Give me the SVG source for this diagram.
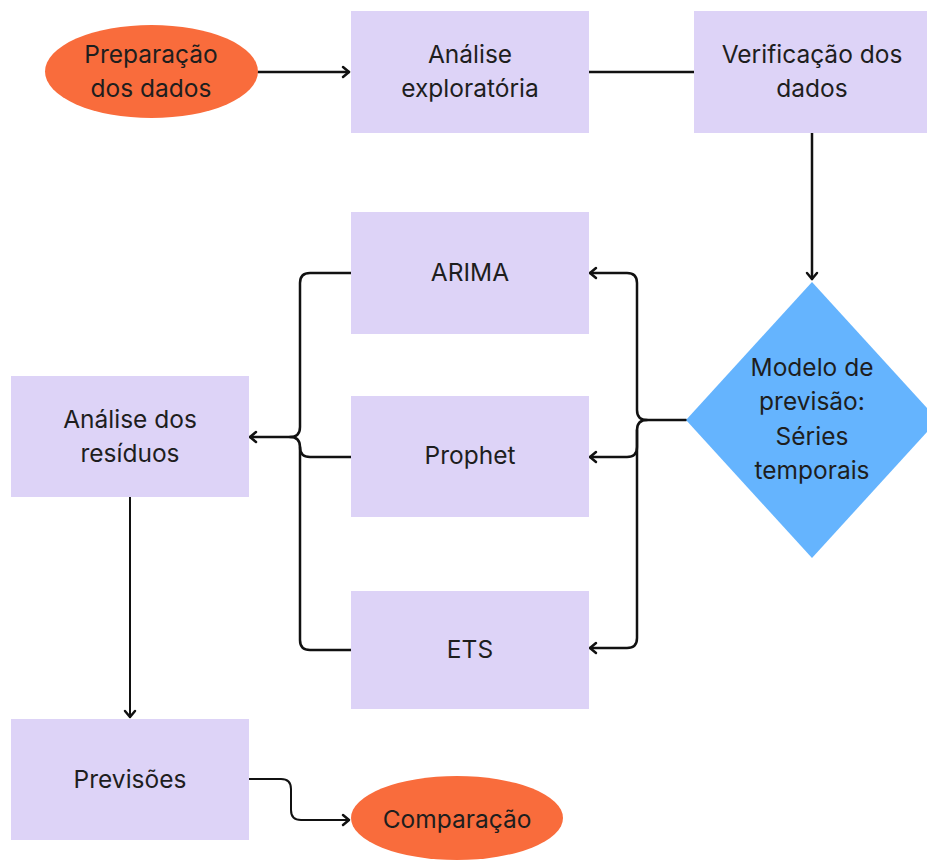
<svg xmlns="http://www.w3.org/2000/svg" width="927" height="861" viewBox="0 0 927 861">
<style>
.box{fill:#ddd3f7}
.oval{fill:#f96c3c}
.dia{fill:#65b4fe}
.t{font-family:Inter,"Open Sans","Liberation Sans",sans-serif;font-size:24.5px;fill:#1e1e1e;text-anchor:middle}
.c{fill:none;stroke:#111;stroke-width:2.5;stroke-linecap:round;stroke-linejoin:round}
.thin{stroke-width:2}
</style>
<defs>
<marker id="ah" viewBox="-10 -8 12 16" refX="0" refY="0" markerWidth="12" markerHeight="16" markerUnits="userSpaceOnUse" orient="auto">
<path d="M-6,-5 L0,0 L-6,5" fill="none" stroke="#111" stroke-width="2.5" stroke-linecap="round" stroke-linejoin="round"/>
</marker>
</defs>
<rect width="927" height="861" fill="#fff"/>
<g id="connectors">
<line class="c" x1="258" y1="72" x2="349" y2="72" marker-end="url(#ah)"/>
<line class="c" x1="589" y1="72" x2="694" y2="72"/>
<line class="c" x1="812" y1="133" x2="812" y2="279" marker-end="url(#ah)"/>
<path class="c" d="M686,420 H647 Q637,420 637,410 V283 Q637,273 627,273 H590" marker-end="url(#ah)"/>
<path class="c" d="M647,420 Q637,420 637,430 V447 Q637,457 627,457 H590" marker-end="url(#ah)"/>
<path class="c" d="M637,430 V638 Q637,648 627,648 H590" marker-end="url(#ah)"/>
<path class="c" d="M351,273 H310 Q300,273 300,283 V427 Q300,437 290,437 H250" marker-end="url(#ah)"/>
<path class="c" d="M351,457 H310 Q300,457 300,447 Q300,437 290,437"/>
<path class="c" d="M351,650 H310 Q300,650 300,640 V447"/>
<line class="c thin" x1="130" y1="497" x2="130" y2="717" marker-end="url(#ah)"/>
<path class="c thin" d="M249,779 H281 Q291,779 291,789 V810 Q291,820 301,820 H349" marker-end="url(#ah)"/>
</g>
<g id="prep"><ellipse class="oval" cx="151.5" cy="71.5" rx="106.5" ry="46.5"/><text class="t" x="151" y="63">Preparação</text><text class="t" x="151" y="97">dos dados</text></g>
<g id="analise"><rect class="box" x="351" y="11" width="238" height="122"/><text class="t" x="470" y="63">Análise</text><text class="t" x="470" y="97">exploratória</text></g>
<g id="verif"><rect class="box" x="694" y="11" width="233" height="122"/><text class="t" x="812" y="63">Verificação dos</text><text class="t" x="812" y="97">dados</text></g>
<g id="modelo"><polygon class="dia" points="812,282 938,420 812,558 686,420"/><text class="t" x="812" y="376">Modelo de</text><text class="t" x="812" y="410">previsão:</text><text class="t" x="812" y="445">Séries</text><text class="t" x="812" y="479">temporais</text></g>
<g id="arima"><rect class="box" x="351" y="212" width="238" height="122"/><text class="t" x="470" y="281">ARIMA</text></g>
<g id="prophet"><rect class="box" x="351" y="396" width="238" height="121"/><text class="t" x="470" y="464">Prophet</text></g>
<g id="ets"><rect class="box" x="351" y="591" width="238" height="118"/><text class="t" x="470" y="658">ETS</text></g>
<g id="residuos"><rect class="box" x="11" y="376" width="238" height="121"/><text class="t" x="130" y="428">Análise dos</text><text class="t" x="130" y="462">resíduos</text></g>
<g id="previsoes"><rect class="box" x="11" y="719" width="238" height="121"/><text class="t" x="130" y="788">Previsões</text></g>
<g id="comparacao"><ellipse class="oval" cx="457" cy="818" rx="106" ry="42"/><text class="t" x="457" y="828">Comparação</text></g>
</svg>
